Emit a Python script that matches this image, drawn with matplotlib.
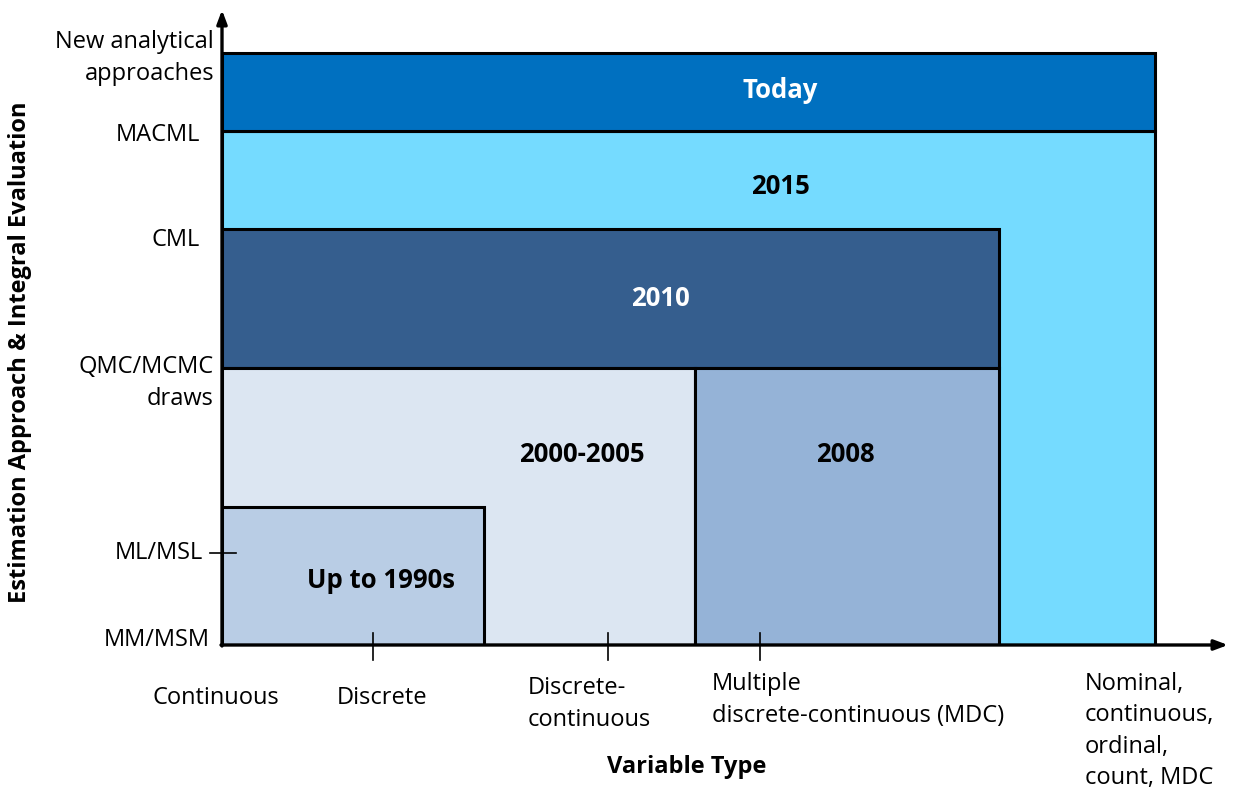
"""Nested-box diagram: estimation approach vs variable type over time."""

import matplotlib.pyplot as plt
from matplotlib.patches import Rectangle

plt.rcParams['font.family'] = ['Open Sans', 'DejaVu Sans']

# boxes: label, x0, x1, y0, y1 (axis units), fill, text colour, text position
box_labels = ["2015", "Today", "2010", "2000-2005", "2008", "Up to 1990s"]
box_x0 = [0, 0, 0, 0, 473, 0]
box_x1 = [933, 933, 777, 473, 777, 262]
box_y0 = [0, 514, 277, 0, 0, 0]
box_y1 = [514, 592, 416, 277, 277, 138]
box_colors = ["#75DBFF", "#0070C0", "#355E8E", "#DCE6F2", "#95B3D7", "#B9CDE5"]
text_colors = ["black", "white", "white", "black", "black", "black"]
text_x = [558, 558, 438, 360, 623, 159]
text_y = [459, 555, 347, 190, 190, 64]

# y-axis categories
y_labels = ["New analytical\napproaches", "MACML", "CML", "QMC/MCMC\ndraws", "ML/MSL", "MM/MSM"]
y_pos = [587, 510, 405, 262, 92, 5]
y_right = [-8, -22, -22, -8, -19, -12]

# x-axis categories
x_labels = ["Continuous", "Discrete", "Discrete-\ncontinuous",
            "Multiple\ndiscrete-continuous (MDC)", "Nominal,\ncontinuous,\nordinal,\ncount, MDC"]
x_pos = [-70, 115, 306, 490, 863]
x_text_y = [-53, -53, -59, -55, -86]
x_ticks = [151, 386, 538]

W, H = 1233, 788
fig = plt.figure(figsize=(W / 100, H / 100), dpi=100)
ax = fig.add_axes([222 / W, 143 / H, 1006 / W, 635 / H])
ax.set_xlim(0, 1006)
ax.set_ylim(0, 635)
ax.axis('off')

for lab, x0, x1, y0, y1, fc, tc, tx, ty in zip(box_labels, box_x0, box_x1, box_y0, box_y1,
                                                box_colors, text_colors, text_x, text_y):
    ax.add_patch(Rectangle((x0, y0), x1 - x0, y1 - y0, facecolor=fc,
                           edgecolor='black', linewidth=2.2, zorder=2))
    ax.text(tx, ty, lab, color=tc, fontsize=18.5, fontweight='bold',
            ha='center', va='center', zorder=3)

# axes with arrows
arrow = dict(arrowstyle='-|>,head_length=0.8,head_width=0.3', color='black', lw=2.4,
             shrinkA=0, shrinkB=0)
ax.annotate('', xy=(1006, 0), xytext=(-1, 0), arrowprops=arrow, zorder=4, annotation_clip=False)
ax.annotate('', xy=(0, 635), xytext=(0, -1), arrowprops=arrow, zorder=4, annotation_clip=False)

for lab, y, xr in zip(y_labels, y_pos, y_right):
    ax.text(xr, y, lab, fontsize=17, ha='right', va='center', linespacing=1.4, clip_on=False)
ax.plot([-12, 14], [92, 92], color='black', lw=1.2, clip_on=False, zorder=4)

for lab, x, y in zip(x_labels, x_pos, x_text_y):
    ax.text(x, y, lab, fontsize=17, ha='left', va='center', linespacing=1.4, clip_on=False)
for x in x_ticks:
    ax.plot([x, x], [12, -15], color='black', lw=1.2, clip_on=False, zorder=4)

ax.text(465, -122, "Variable Type", fontsize=17, fontweight='bold', ha='center', va='center')
fig.text(20 / W, 1 - 352 / H, "Estimation Approach & Integral Evaluation", fontsize=17,
         fontweight='bold', rotation=90, ha='center', va='center')

plt.savefig("out.png", dpi=100)
plt.close()
